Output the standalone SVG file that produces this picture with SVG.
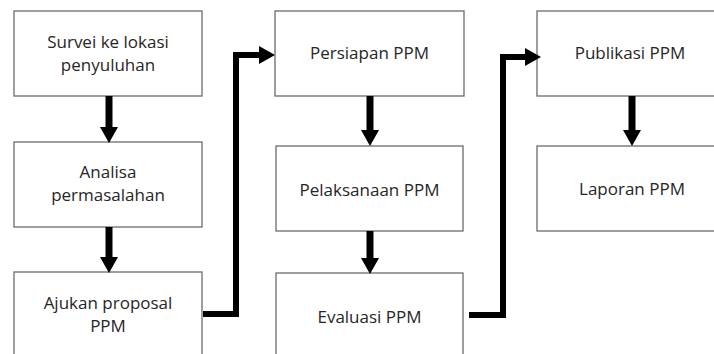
<svg xmlns="http://www.w3.org/2000/svg" width="714" height="354" viewBox="0 0 714 354">
<style>
.box{fill:#fff;stroke:#6b6b6b;stroke-width:1.3}
.t{font-family:"Open Sans","Noto Sans",sans-serif;font-size:17px;fill:#262626;text-anchor:middle}
.c{fill:none;stroke:#000;stroke-width:6;stroke-linejoin:miter}
.v{fill:none;stroke:#000;stroke-width:7}
</style>
<defs>
<marker id="ah" viewBox="0 -9 16 18" markerWidth="16" markerHeight="18" refX="0" refY="0" orient="auto" markerUnits="userSpaceOnUse" overflow="visible">
<path d="M0,-9 L16,0 L0,9 z" fill="#000"/>
</marker>
</defs>
<rect width="714" height="354" fill="#fff"/>
<g id="n1"><rect class="box" x="14" y="11" width="188" height="85"/><text class="t" x="108" y="48">Survei ke lokasi</text><text class="t" x="108" y="71">penyuluhan</text></g>
<g id="n2"><rect class="box" x="14" y="142" width="188" height="85"/><text class="t" x="108" y="178">Analisa</text><text class="t" x="108" y="201">permasalahan</text></g>
<g id="n3"><rect class="box" x="14" y="272" width="188" height="100"/><text class="t" x="108" y="309">Ajukan proposal</text><text class="t" x="108" y="332">PPM</text></g>
<g id="n4"><rect class="box" x="275" y="11" width="189" height="85"/><text class="t" x="369.5" y="59">Persiapan PPM</text></g>
<g id="n5"><rect class="box" x="276" y="146" width="187" height="85"/><text class="t" x="369.5" y="196">Pelaksanaan PPM</text></g>
<g id="n6"><rect class="box" x="276" y="273" width="187" height="100"/><text class="t" x="369.5" y="323">Evaluasi PPM</text></g>
<g id="n7"><rect class="box" x="537" y="11" width="186" height="85"/><text class="t" x="630" y="59">Publikasi PPM</text></g>
<g id="n8"><rect class="box" x="537" y="146" width="190" height="85"/><text class="t" x="632" y="195">Laporan PPM</text></g>
<g id="connectors">
<path class="v" d="M109,96 V127" marker-end="url(#ah)"/>
<path class="v" d="M109,227 V257" marker-end="url(#ah)"/>
<path class="v" d="M370,96 V130" marker-end="url(#ah)"/>
<path class="v" d="M370,231 V258" marker-end="url(#ah)"/>
<path class="v" d="M632,96 V130" marker-end="url(#ah)"/>
<path class="c" d="M203,314 H236 V55 H259" marker-end="url(#ah)"/>
<path class="c" d="M469,315 H503 V57 H525" marker-end="url(#ah)"/>
</g>
</svg>
